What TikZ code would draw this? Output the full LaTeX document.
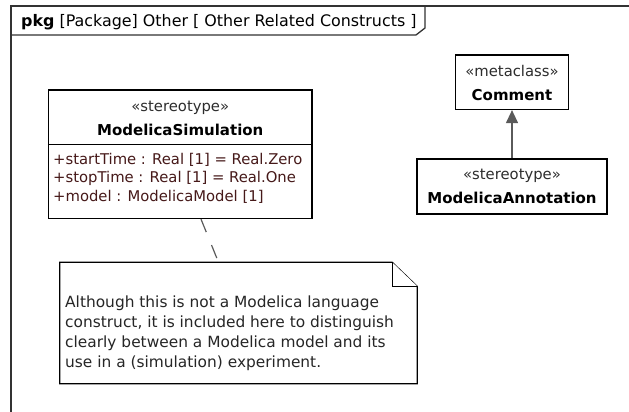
\documentclass[tikz,border=0pt]{standalone}
\usepackage{fontspec}
\setmainfont{DejaVu Sans}
\usetikzlibrary{calc,arrows.meta}
\definecolor{attrcol}{RGB}{70,25,25}
\definecolor{stereocol}{RGB}{45,45,45}
\definecolor{conncol}{RGB}{90,90,90}
\definecolor{framecol}{RGB}{50,50,50}
\begin{document}
\begin{tikzpicture}[x=1pt,y=-1pt,
  classbox/.style={draw=black, line width=1.2pt, inner sep=0pt, fill=white},
  lbl/.style={font=\fontsize{14.8}{18}\selectfont, inner sep=0pt, anchor=base},
  stereo/.style={lbl, text=stereocol},
  cname/.style={lbl, font=\fontsize{15}{18}\selectfont\bfseries},
  attr/.style={lbl, anchor=base west, text=attrcol},
  notetext/.style={lbl, anchor=base west, text=black!85, font=\fontsize{15.4}{18}\selectfont},
  frameline/.style={draw=framecol, line width=1.3pt},
  conn/.style={draw=conncol, line width=1.2pt}]
\useasboundingbox (0,0) rectangle (629,412);
\fill[white] (0,0) rectangle (629,412);
% frame
\draw[frameline] (11,412) -- (11,6) -- (629,6);
\draw[frameline] (11,35) -- (416,35) -- (425,28) -- (425,6);
\node[lbl, anchor=base west, font=\fontsize{15.9}{18}\selectfont] (hdr) at (21,27) {\textbf{pkg} [Package] Other [ Other Related Constructs ]};
% ModelicaSimulation
\node[classbox, minimum width=263.5pt, minimum height=128.5pt] (sim) at (180.25,154.25) {};
\draw[classbox] (sim.west |- 0,144.5) -- (sim.east |- 0,144.5);
\node[stereo] (simst) at (180.25,111) {«stereotype»};
\node[cname] (simname) at (180.25,135) {ModelicaSimulation};
\node[attr] (a1) at (53,164) {+startTime : Real [1] = Real.Zero};
\node[attr] (a2) at (53,182.7) {+stopTime : Real [1] = Real.One};
\node[attr] (a3) at (53,201.2) {+model : ModelicaModel [1]};
% Comment metaclass
\node[classbox, minimum width=113pt, minimum height=54.5pt] (comment) at (512,82.25) {};
\node[stereo] (commst) at (512,76.7) {«metaclass»};
\node[cname] (commname) at (512,100) {Comment};
% ModelicaAnnotation
\node[classbox, minimum width=190pt, minimum height=55pt] (annot) at (512,186.5) {};
\node[stereo] (annst) at (512,179.3) {«stereotype»};
\node[cname] (annname) at (512,203.3) {ModelicaAnnotation};
% generalization
\draw[conn, -{Triangle[length=13pt,width=12pt]}] (annot.north) -- (comment.south);
% note
\node[minimum width=357pt, minimum height=121pt, inner sep=0pt] (note) at (238.5,323) {};
\draw[classbox] (note.north west) -- ($(note.north east)+(-25,0)$) -- ($(note.north east)+(0,24)$) -- (note.south east) -- (note.south west) -- cycle;
\draw[classbox] ($(note.north east)+(-25,0)$) -- ($(note.north east)+(-25,24)$) -- ($(note.north east)+(0,24)$);
\node[notetext] (n1) at (65,307.3) {Although this is not a Modelica language};
\node[notetext] (n2) at (65,327.3) {construct, it is included here to distinguish};
\node[notetext] (n3) at (65,347.3) {clearly between a Modelica model and its};
\node[notetext] (n4) at (65,367.3) {use in a (simulation) experiment.};
% anchor line
\draw[conn, dash pattern=on 14pt off 14pt] ($(sim.south)+(20.75,0)$) -- ($(note.north)+(-20,0)$);
\end{tikzpicture}
\end{document}
